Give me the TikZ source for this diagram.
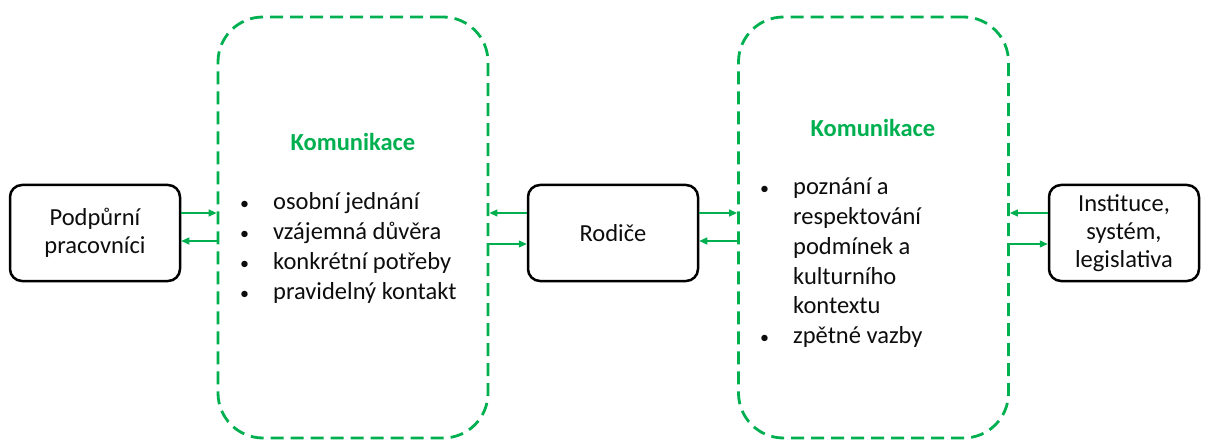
\documentclass[tikz,border=0pt]{standalone}
\usepackage{fontspec}
\setmainfont{Carlito}
\usetikzlibrary{arrows.meta}
\definecolor{offgreen}{HTML}{00B050}
\definecolor{txt}{HTML}{0D0D0D}
\newcommand{\pt}{{\fontsize{18}{30}\selectfont\textbullet}}
\begin{document}
\begin{tikzpicture}[x=1pt,y=-1pt,>={Triangle[length=8pt,width=7pt]},
  font=\fontsize{24.5}{28}\selectfont, text=txt,
  party/.style={draw=black,line width=2.5pt,rounded corners=12pt,
    minimum height=96pt,align=center,inner sep=0pt},
  commbox/.style={draw=offgreen,line width=2.8pt,dash pattern=on 13pt off 7pt,
    rounded corners=45pt,minimum width=270pt,minimum height=421pt},
  flow/.style={->,draw=offgreen,line width=1.3pt,color=offgreen},
  title/.style={text=offgreen,font=\fontsize{24.5}{30}\selectfont\bfseries,anchor=base},
  points/.style={anchor=base west,inner sep=0pt,font=\fontsize{24.5}{30}\selectfont}]
\useasboundingbox (0,0) rectangle (1211,441);
% parties
\node[party,minimum width=170pt] (pp) at (95,233) {Podpůrní\\pracovníci};
\node[party,minimum width=170pt] (rod) at (613,233) {Rodiče};
\node[party,minimum width=150pt] (inst) at (1124,233) {Instituce,\\systém,\\legislativa};
% communication
\node[commbox] (k1) at (353,227.5) {};
\node[commbox] (k2) at (873.5,227.5) {};
\node[title] (t1) at (353,151) {Komunikace};
\node[title] (t2) at (873,137) {Komunikace};
\node[points] (l1) at (240,209) {\begin{tabular}[t]{@{}l@{\hspace{24pt}}l@{}}
\pt & osobní jednání\\
\pt & vzájemná důvěra\\
\pt & konkrétní potřeby\\
\pt & pravidelný kontakt
\end{tabular}};
\node[points] (l2) at (760,194) {\begin{tabular}[t]{@{}l@{\hspace{24pt}}l@{}}
\pt & poznání a\\
 & respektování\\
 & podmínek a\\
 & kulturního\\
 & kontextu\\
\pt & zpětné vazby
\end{tabular}};
% arrows
\draw[flow] ([yshift=20pt]pp.east) -- ([yshift=20pt]pp.east -| k1.west);
\draw[flow] ([yshift=-8pt]k1.west |- pp.east) -- ([yshift=-8pt]pp.east);
\draw[flow] ([yshift=20pt]rod.west) -- ([yshift=20pt]rod.west -| k1.east);
\draw[flow] ([yshift=-11pt]k1.east |- rod.west) -- ([yshift=-11pt]rod.west);
\draw[flow] ([yshift=20pt]rod.east) -- ([yshift=20pt]rod.east -| k2.west);
\draw[flow] ([yshift=-8pt]k2.west |- rod.east) -- ([yshift=-8pt]rod.east);
\draw[flow] ([yshift=20pt]inst.west) -- ([yshift=20pt]inst.west -| k2.east);
\draw[flow] ([yshift=-11pt]k2.east |- inst.west) -- ([yshift=-11pt]inst.west);
\end{tikzpicture}
\end{document}
